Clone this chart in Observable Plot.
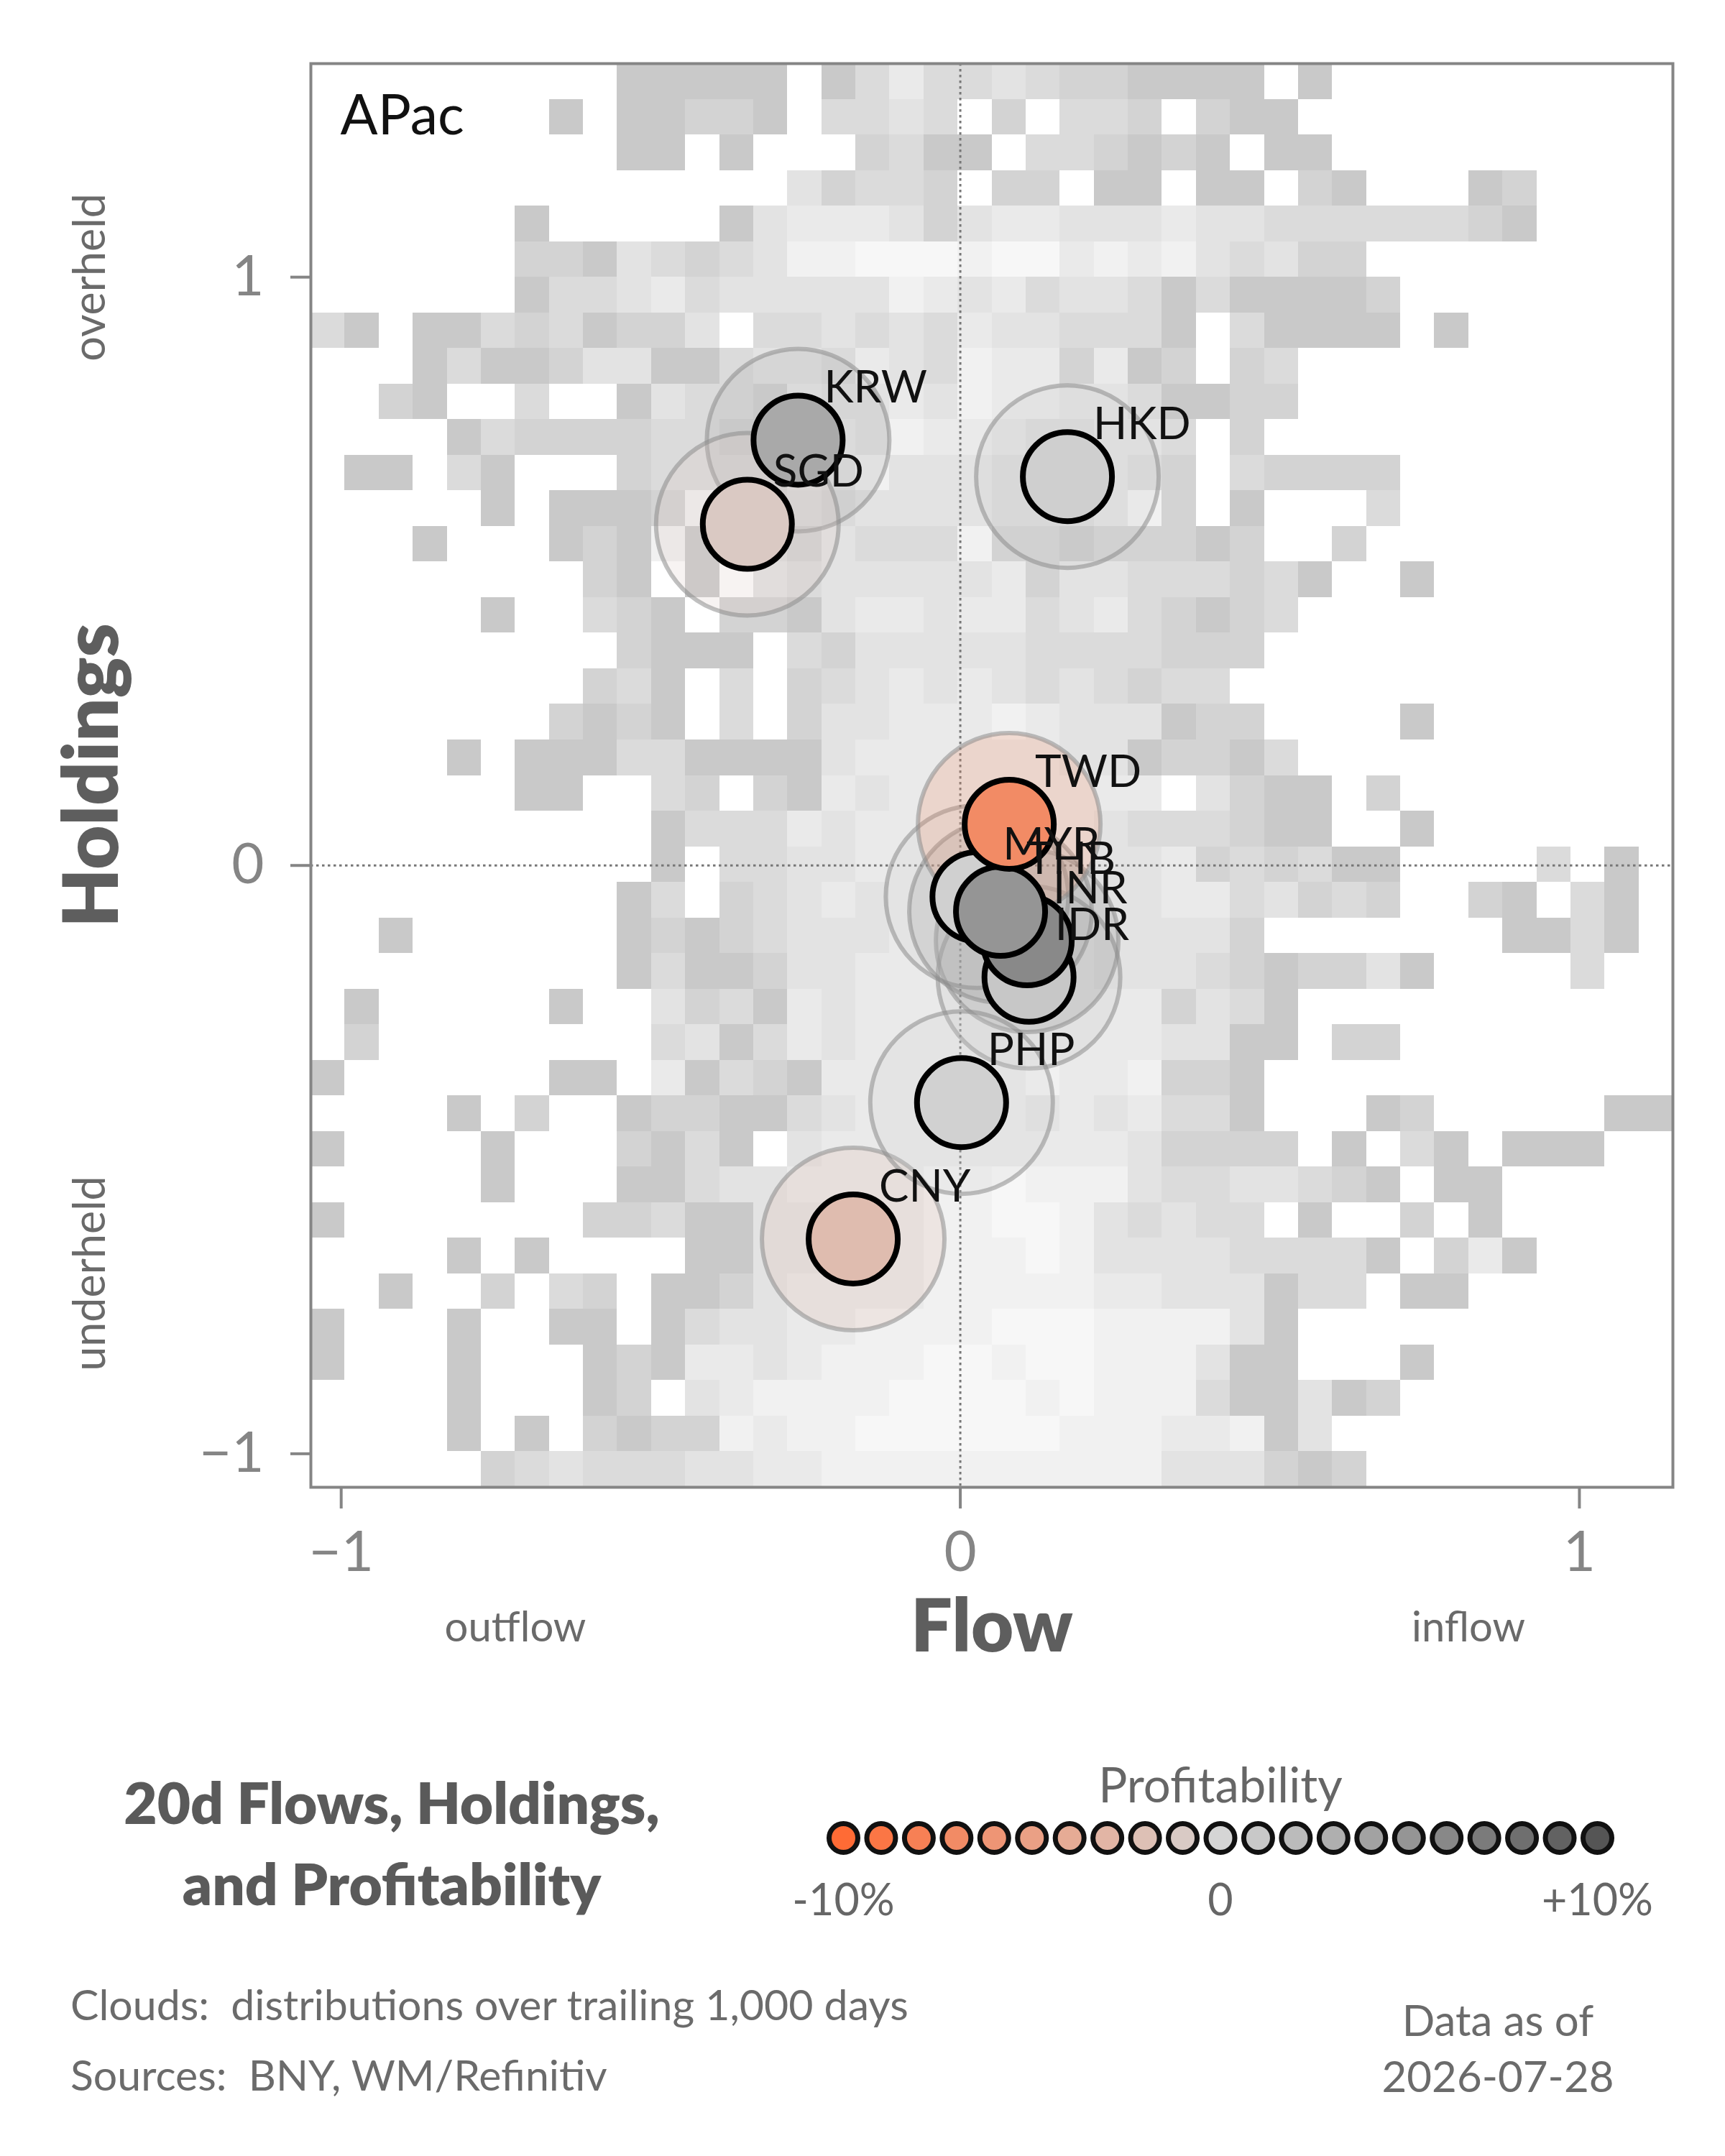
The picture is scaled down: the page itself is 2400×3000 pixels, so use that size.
<!DOCTYPE html>
<html>
<head>
<meta charset="utf-8">
<script src="https://cdn.jsdelivr.net/npm/d3@7"></script>
<script src="https://cdn.jsdelivr.net/npm/@observablehq/plot@0.6"></script>
<style>
  html, body { margin: 0; padding: 0; background: #fff; }
  #page { position: relative; width: 2400px; height: 3000px; background: #fff; font-family: Lato, "Open Sans", sans-serif; }
  #page svg { position: absolute; }
</style>
</head>
<body>
<div id="page"></div>
<script>
// ---------------- data ----------------
const currencies    = ["CNY", "HKD", "IDR", "INR", "KRW", "MYR", "PHP", "SGD", "THB", "TWD"];
const flows         = [-0.173, 0.173, 0.111, 0.108, -0.262, 0.027, 0.002, -0.344, 0.065, 0.079];
const holdings      = [-0.635, 0.661, -0.190, -0.128, 0.723, -0.053, -0.403, 0.580, -0.078, 0.070];
const profitability = [-2.4, 0.5, 1.1, 5.9, 3.4, 0.4, 0.3, -1.1, 5.0, -7.0];

const xTicks = [-1, 0, 1];
const yTicks = [-1, 0, 1];
const xDomain = [-1.049, 1.151];
const yDomain = [-1.057, 1.363];

// cloud (trailing distribution) grid: 40 columns x 40 rows, top row first; digit = shade level, 0 = empty
const cloudRows = [
  "0000000001111101353343221111010000000000",
  "00000001011221033430203320211",
  "000000000110100023110332121011",
  "000000000000004233202201101102100012",
  "000000100000145554245544454433333321",
  "0000002214323466777677565643422",
  "00000013345344444654534431311112",
  "3101132312240334343544333103111101000000",
  "00013112441134435436552512023",
  "00210030014332544546554431122",
  "0000132222332235465543344302",
  "01103100023333546444333432032222",
  "00000101112643434444333462010003",
  "0001000121613324333622122212002",
  "000000002101043444445244333231001",
  "00000100321022145545534532123",
  "0000000002111032444443333222",
  "000000002310302345454343233",
  "000000021210302445556544412200001",
  "00001011133111145555554412213",
  "00000011003202154555555550421102",
  "000000000013335455555554333211001",
  "0000000000103344555555544523231100003010",
  "0000000001302345455555544553423200210310",
  "0010000001212344455555544442000000011310",
  "0000000001311244555555544432122410000300",
  "01000001004231545555555552431",
  "02000000003413545555555554411022",
  "1000000110513215555556556221",
  "0000102001221134555554545331000120000011",
  "1000010002131045555555554222201031011100",
  "00000100011344555566766643344321011",
  "10000000223114455566776434330100201",
  "000010100001144555666764444333310251",
  "0010020320112455556666655444133011",
  "10001001101344556666777666641",
  "100010001215545666776776664110001",
  "00001000120456666777767666311412",
  "000010102122656677777766655614",
  "0000023433344556666666666444212"
];
const cloudGrays = ["#c9c9c9", "#d3d3d3", "#dbdbdb", "#e3e3e3", "#eaeaea", "#f1f1f1", "#f7f7f7"];

const profitColors = ["#ff6b35", "#d5d5d5", "#555555"];
const legendSteps = [-10, -9, -8, -7, -6, -5, -4, -3, -2, -1, 0, 1, 2, 3, 4, 5, 6, 7, 8, 9, 10];
const legendTickValues = [-10, 0, 10];
const legendTickLabels = ["-10%", "0", "+10%"];

const titleLines = ["20d Flows, Holdings,", "and Profitability"];
const noteLines = ["Clouds:  distributions over trailing 1,000 days", "Sources:  BNY, WM/Refinitiv"];
const dateLines = ["Data as of", "2026-07-28"];

// ---------------- derived tables ----------------
const points = currencies.map((name, i) => ({name, flow: flows[i], holding: holdings[i], profit: profitability[i]}));
const nCols = 40, nRows = cloudRows.length;
const bw = (xDomain[1] - xDomain[0]) / nCols;
const bh = (yDomain[1] - yDomain[0]) / nRows;
const cells = [];
cloudRows.forEach((row, r) => {
  row.padEnd(nCols, "0").slice(0, nCols).split("").forEach((ch, c) => {
    const level = +ch;
    if (level > 0) cells.push({
      level,
      x1: xDomain[0] + c * bw, x2: xDomain[0] + (c + 1) * bw,
      y2: yDomain[1] - r * bh, y1: yDomain[1] - (r + 1) * bh
    });
  });
});
const legendTicks = legendTickValues.map((v, i) => ({v, label: legendTickLabels[i]}));
const colorScale = {type: "linear", domain: [-10, 10], clamp: true, interpolate: d3.piecewise(d3.interpolateRgb, profitColors)};
const intFormat = d3.format("d");

const FONT = "Lato, 'Open Sans', sans-serif";
const page = document.getElementById("page");

// ---------------- main chart ----------------
const chart = Plot.plot({
  width: 2400, height: 2340,
  marginLeft: 432, marginRight: 73, marginTop: 88, marginBottom: 271,
  style: {fontFamily: FONT, background: "transparent", overflow: "visible"},
  x: {domain: xDomain},
  y: {domain: yDomain},
  color: colorScale,
  marks: [
    ...cloudGrays.map((g, i) => Plot.rect(cells.filter(d => d.level === i + 1), {
      x1: "x1", x2: "x2", y1: "y1", y2: "y2", fill: g, shapeRendering: "crispEdges"
    })),
    Plot.ruleX([0], {stroke: "#777", strokeWidth: 3, strokeDasharray: "3.5,4.5"}),
    Plot.ruleY([0], {stroke: "#777", strokeWidth: 3, strokeDasharray: "3.5,4.5"}),
    Plot.frame({stroke: "#858585", strokeWidth: 4}),
    Plot.axisX({ticks: xTicks, tickFormat: intFormat, tickSize: 30, tickPadding: 31, fontSize: 78, color: "#858585", strokeWidth: 4, label: null}),
    Plot.axisY({ticks: yTicks, tickFormat: intFormat, tickSize: 28, tickPadding: 37, fontSize: 78, color: "#858585", strokeWidth: 4, label: null}),
    Plot.dot(points, {x: "flow", y: "holding", r: 127, fill: "profit", fillOpacity: 0.22, stroke: "#8c8c8c", strokeOpacity: 0.55, strokeWidth: 6}),
    Plot.dot(points, {x: "flow", y: "holding", r: 62, fill: "profit", stroke: "#000", strokeWidth: 8}),
    Plot.text(points, {x: "flow", y: "holding", text: "name", dx: 36, dy: -52, textAnchor: "start", lineAnchor: "bottom", fontSize: 62, fill: "#111"}),
    Plot.text(["APac"], {text: d => d, frameAnchor: "top-left", dx: 41, dy: 98, textAnchor: "start", lineAnchor: "bottom", fontSize: 77, fill: "#111"}),
    Plot.text(["Flow"], {text: d => d, frameAnchor: "bottom", dy: 228, textAnchor: "middle", lineAnchor: "bottom", fontSize: 102, fontWeight: 800, fill: "#5e5e5e"}),
    Plot.text(["outflow"], {text: d => d, frameAnchor: "bottom", dx: -663, dy: 214, textAnchor: "middle", lineAnchor: "bottom", fontSize: 58, fill: "#6a6a6a"}),
    Plot.text(["inflow"], {text: d => d, frameAnchor: "bottom", dx: 663, dy: 214, textAnchor: "middle", lineAnchor: "bottom", fontSize: 58, fill: "#6a6a6a"}),
    Plot.text(["Holdings"], {text: d => d, frameAnchor: "left", rotate: -90, dx: -302, textAnchor: "middle", lineAnchor: "middle", fontSize: 106, fontWeight: 800, fill: "#5e5e5e"}),
    Plot.text(["overheld"], {text: d => d, frameAnchor: "left", rotate: -90, dx: -306, dy: -693, textAnchor: "middle", lineAnchor: "middle", fontSize: 61, fill: "#6a6a6a"}),
    Plot.text(["underheld"], {text: d => d, frameAnchor: "left", rotate: -90, dx: -306, dy: 693, textAnchor: "middle", lineAnchor: "middle", fontSize: 61, fill: "#6a6a6a"})
  ]
});
chart.style.left = "0px"; chart.style.top = "0px";
page.appendChild(chart);

// ---------------- legend ----------------
const legend = Plot.plot({
  width: 1200, height: 280,
  marginLeft: 75, marginRight: 76, marginTop: 100, marginBottom: 106,
  style: {fontFamily: FONT, background: "transparent", overflow: "visible"},
  x: {domain: [-10, 10], axis: null},
  color: colorScale,
  marks: [
    Plot.dot(legendSteps, {x: d => d, fill: d => d, r: 20, stroke: "#111", strokeWidth: 7}),
    Plot.text(["Profitability"], {text: d => d, frameAnchor: "top", dy: -13, textAnchor: "middle", lineAnchor: "bottom", fontSize: 67, fill: "#666"}),
    Plot.text(legendTicks, {x: "v", text: "label", frameAnchor: "bottom", dy: 70, textAnchor: "middle", lineAnchor: "bottom", fontSize: 61, fill: "#666"})
  ]
});
legend.style.left = "1098px"; legend.style.top = "2420px";
page.appendChild(legend);

// ---------------- title and notes ----------------
const overlay = d3.create("svg")
  .attr("width", 2400).attr("height", 3000)
  .style("left", "0px").style("top", "0px").style("pointer-events", "none")
  .attr("font-family", FONT);
overlay.append("g").selectAll("text").data(titleLines).join("text")
  .attr("x", 545).attr("y", (d, i) => 2538 + i * 113)
  .attr("text-anchor", "middle").attr("font-weight", 800).attr("font-size", 80).attr("fill", "#5a5a5a")
  .text(d => d);
overlay.append("g").selectAll("text").data(noteLines).join("text")
  .attr("x", 98).attr("y", (d, i) => 2811 + i * 98)
  .attr("text-anchor", "start").attr("font-size", 59).attr("fill", "#6b6b6b")
  .style("white-space", "pre")
  .text(d => d);
overlay.append("g").selectAll("text").data(dateLines).join("text")
  .attr("x", 2084).attr("y", (d, i) => 2833 + i * 78)
  .attr("text-anchor", "middle").attr("font-size", 60).attr("fill", "#6b6b6b")
  .text(d => d);
page.appendChild(overlay.node());
</script>
</body>
</html>
